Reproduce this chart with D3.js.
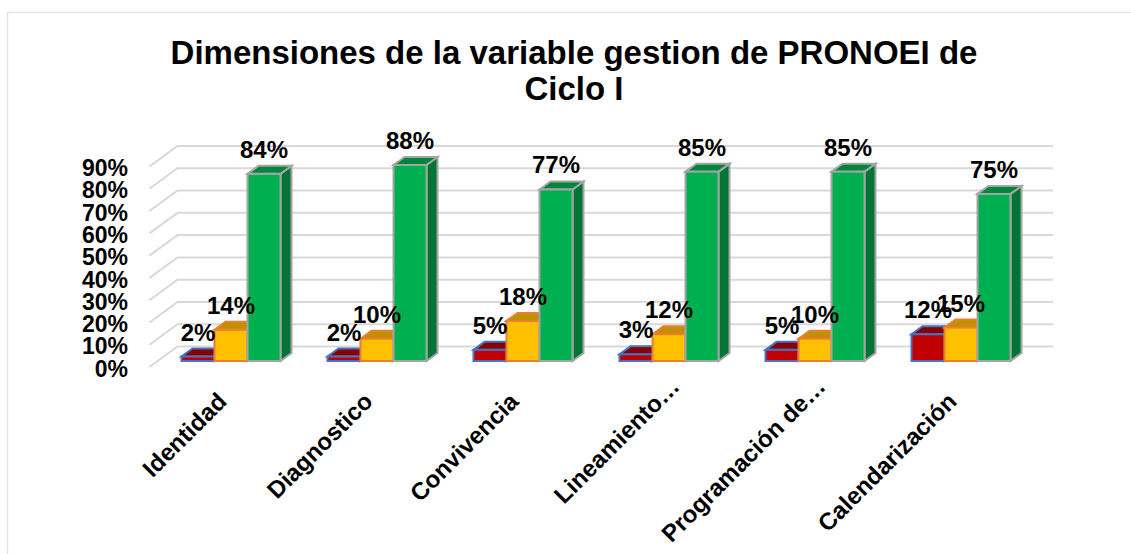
<!DOCTYPE html>
<html>
<head>
<meta charset="utf-8">
<script src="https://cdn.jsdelivr.net/npm/d3@7"></script>
<style>
	html, body { margin: 0; padding: 0; background: #fff; }
	text { font-family: "Liberation Sans", Arial, sans-serif; font-weight: bold; fill: #000; }
</style>
</head>
<body>
<div id="chart"></div>
<script>
	'use strict';

	var categories = ['Identidad', 'Diagnostico', 'Convivencia', 'Lineamiento…', 'Programación de…', 'Calendarización'];
	var seriesNames = ['bajo', 'medio', 'alto'];
	var bajo = [2, 2, 5, 3, 5, 12];
	var medio = [14, 10, 18, 12, 10, 15];
	var alto = [84, 88, 77, 85, 85, 75];
	var yTicks = [0, 10, 20, 30, 40, 50, 60, 70, 80, 90];
	var titleLines = ['Dimensiones de la variable gestion de PRONOEI de', 'Ciclo I'];

	var colors = {
		bajo: { front: '#c00000', top: '#8a0000', side: '#7a0000', stroke: '#4472c4' },
		medio: { front: '#ffc000', top: '#bf9000', side: '#a67c00', stroke: '#ed7d31' },
		alto: { front: '#00b050', top: '#00853c', side: '#007535', stroke: '#a5a5a5' }
	};

	var width = 1131, height = 554;
	var depth = { x: 11, y: -8 };
	var wall = { x: 28, y: -20.5 };
	var barLift = 6;

	var svg = d3.select('#chart').append('svg')
		.attr('width', width)
		.attr('height', height)
		.style('display', 'block');

	// chart frame, only top and left show in the picture
	svg.append('path')
		.attr('d', d3.line()([[1131, 12.5], [7.5, 12.5], [7.5, 554]]))
		.attr('fill', 'none')
		.attr('stroke', '#e3e3e3')
		.attr('stroke-width', 1.5);

	svg.selectAll('.title').data(titleLines).enter().append('text')
		.attr('class', 'title')
		.attr('x', 574)
		.attr('y', function (d, i) { return 64 + i * 36; })
		.attr('text-anchor', 'middle')
		.style('font-size', '33px')
		.text(function (d) { return d; });

	var x = d3.scaleBand()
		.domain(categories)
		.range([158, 1034])
		.paddingInner(47 / 146)
		.paddingOuter(47 / 292);

	var inner = d3.scaleBand()
		.domain(seriesNames)
		.range([0, x.bandwidth()]);

	var y = d3.scaleLinear().domain([0, 90]).range([367, 166.5]);

	// floor/wall gridlines
	var grid = svg.append('g').attr('class', 'grid');
	grid.selectAll('path').data(yTicks).enter().append('path')
		.attr('d', function (d) {
			return d3.line()([[149.5, y(d)], [149.5 + wall.x, y(d) + wall.y], [1053, y(d) + wall.y]]);
		})
		.attr('fill', 'none')
		.attr('stroke', '#d9d9d9')
		.attr('stroke-width', 2);

	var yAxis = svg.append('g')
		.attr('transform', 'translate(132,0)')
		.call(d3.axisLeft(y).tickValues(yTicks).tickSize(0).tickPadding(4)
			.tickFormat(function (d) { return d + '%'; }));
	yAxis.select('.domain').remove();
	yAxis.selectAll('text')
		.style('font-size', '23px')
		.attr('dy', '0.4em');

	var xAxis = svg.append('g')
		.attr('transform', 'translate(0,367)')
		.call(d3.axisBottom(x).tickSize(0));
	xAxis.select('.domain').remove();
	xAxis.selectAll('text')
		.style('font-size', '24px')
		.attr('text-anchor', 'end')
		.attr('dy', 0)
		.attr('y', 0)
		.attr('transform', function (d) {
			// cut labels run further up past the tick
			var extra = /…$/.test(d) ? 15 : 0;
			return 'translate(' + (-3 + extra) + ',' + (36 - extra) + ') rotate(-45)';
		});

	function drawBar (g, name, value, cat)	{
		var c = colors[name];
		var x0 = x(cat) + inner(name),
				x1 = x0 + inner.bandwidth(),
				yb = y(0) - barLift,
				yt = y(value) - barLift;

		// side
		g.append('path')
			.attr('d', d3.line()([[x1, yt], [x1 + depth.x, yt + depth.y], [x1 + depth.x, yb + depth.y], [x1, yb]]) + 'Z')
			.attr('fill', c.side)
			.attr('stroke', c.stroke)
			.attr('stroke-width', 2);
		// top
		g.append('path')
			.attr('d', d3.line()([[x0, yt], [x0 + depth.x, yt + depth.y], [x1 + depth.x, yt + depth.y], [x1, yt]]) + 'Z')
			.attr('fill', c.top)
			.attr('stroke', c.stroke)
			.attr('stroke-width', 2);
		// front
		g.append('rect')
			.attr('x', x0)
			.attr('y', yt)
			.attr('width', x1 - x0)
			.attr('height', yb - yt)
			.attr('fill', c.front)
			.attr('stroke', c.stroke)
			.attr('stroke-width', 2);
	};

	var series = { bajo: bajo, medio: medio, alto: alto };
	var bars = svg.append('g').attr('class', 'bars');

	categories.forEach(function (cat, i) {
		var g = bars.append('g');
		seriesNames.forEach(function (name) {
			drawBar(g, name, series[name][i], cat);
		});
	});

	// data labels go on top of every bar
	var labels = svg.append('g').attr('class', 'labels');
	categories.forEach(function (cat, i) {
		seriesNames.forEach(function (name) {
			labels.append('text')
				.attr('x', x(cat) + inner(name) + inner.bandwidth() / 2)
				.attr('y', y(series[name][i]) - barLift - 16)
				.attr('text-anchor', 'middle')
				.style('font-size', '24px')
				.text(series[name][i] + '%');
		});
	});
</script>
</body>
</html>
